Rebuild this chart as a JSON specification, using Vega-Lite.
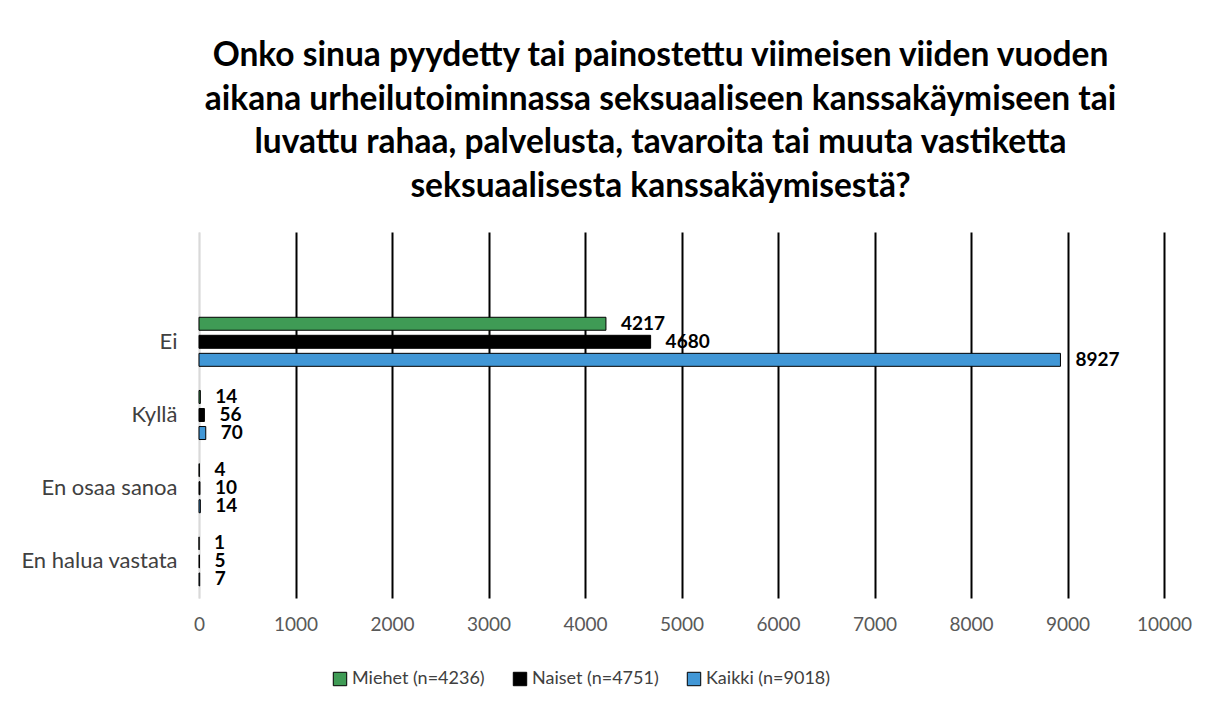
{
  "$schema": "https://vega.github.io/schema/vega-lite/v6.json",
  "autosize": {"type": "none"},
  "width": 965,
  "height": 366,
  "padding": {"left": 199, "top": 232, "right": 53, "bottom": 111},
  "background": "white",
  "config": {
    "view": {"stroke": null},
    "font": "Lato"
  },
  "title": {
    "text": [
      "Onko sinua pyydetty tai painostettu viimeisen viiden vuoden",
      "aikana urheilutoiminnassa seksuaaliseen kanssakäymiseen tai",
      "luvattu rahaa, palvelusta, tavaroita tai muuta vastiketta",
      "seksuaalisesta kanssakäymisestä?"
    ],
    "font": "Lato",
    "fontSize": 33.5,
    "fontWeight": "bold",
    "lineHeight": 43.5,
    "color": "#000000",
    "anchor": "middle",
    "dx": -21,
    "offset": 28
  },
  "data": {
    "values": [
      {"category": "Ei", "series": "Miehet (n=4236)", "value": 4217},
      {"category": "Ei", "series": "Naiset (n=4751)", "value": 4680},
      {"category": "Ei", "series": "Kaikki (n=9018)", "value": 8927},
      {"category": "Kyllä", "series": "Miehet (n=4236)", "value": 14},
      {"category": "Kyllä", "series": "Naiset (n=4751)", "value": 56},
      {"category": "Kyllä", "series": "Kaikki (n=9018)", "value": 70},
      {"category": "En osaa sanoa", "series": "Miehet (n=4236)", "value": 4},
      {"category": "En osaa sanoa", "series": "Naiset (n=4751)", "value": 10},
      {"category": "En osaa sanoa", "series": "Kaikki (n=9018)", "value": 14},
      {"category": "En halua vastata", "series": "Miehet (n=4236)", "value": 1},
      {"category": "En halua vastata", "series": "Naiset (n=4751)", "value": 5},
      {"category": "En halua vastata", "series": "Kaikki (n=9018)", "value": 7}
    ]
  },
  "encoding": {
    "y": {
      "field": "category",
      "type": "nominal",
      "scale": {"domain": [" ", "Ei", "Kyllä", "En osaa sanoa", "En halua vastata"], "paddingInner": 0.33, "paddingOuter": 0.165},
      "axis": {
        "title": null,
        "domain": true,
        "domainColor": "#d9d9d9",
        "domainWidth": 1.5,
        "ticks": false,
        "grid": false,
        "labelFontSize": 22,
        "labelColor": "#404040",
        "labelPadding": 22,
        "labelFont": "Lato"
      }
    },
    "yOffset": {
      "field": "series",
      "type": "nominal",
      "scale": {"domain": ["Miehet (n=4236)", "Naiset (n=4751)", "Kaikki (n=9018)"], "paddingInner": 0.28, "paddingOuter": 0}
    },
    "x": {
      "field": "value",
      "type": "quantitative",
      "scale": {"domain": [0, 10000], "nice": false},
      "axis": {
        "title": null,
        "values": [0, 1000, 2000, 3000, 4000, 5000, 6000, 7000, 8000, 9000, 10000],
        "format": "d",
        "domain": false,
        "ticks": false,
        "grid": true,
        "gridColor": {"condition": {"test": "datum.value === 0", "value": "#d9d9d9"}, "value": "#000000"},
        "gridWidth": 2,
        "labelFlush": false,
        "labelFontSize": 19,
        "labelColor": "#595959",
        "labelPadding": 17,
        "labelFont": "Lato"
      }
    }
  },
  "layer": [
    {
      "mark": {"type": "bar", "stroke": "#000000", "strokeWidth": 1},
      "encoding": {
        "color": {
          "field": "series",
          "type": "nominal",
          "scale": {
            "domain": ["Miehet (n=4236)", "Naiset (n=4751)", "Kaikki (n=9018)"],
            "range": ["#3f9b55", "#000000", "#4197d6"]
          },
          "legend": {
            "title": null,
            "orient": "none",
            "direction": "horizontal",
            "legendX": 132,
            "legendY": 438,
            "symbolType": "square",
            "symbolSize": 180,
            "symbolStrokeColor": "#000000",
            "symbolStrokeWidth": 1,
            "symbolOpacity": 1,
            "labelFontSize": 18,
            "labelColor": "#404040",
            "labelFont": "Lato",
            "labelOffset": 3,
            "columnPadding": 26
          }
        }
      }
    },
    {
      "mark": {"type": "text", "align": "left", "baseline": "middle", "dx": 15, "fontSize": 19, "fontWeight": "bold", "color": "#000000", "font": "Lato"},
      "encoding": {
        "text": {"field": "value", "type": "quantitative", "format": "d"}
      }
    }
  ]
}
